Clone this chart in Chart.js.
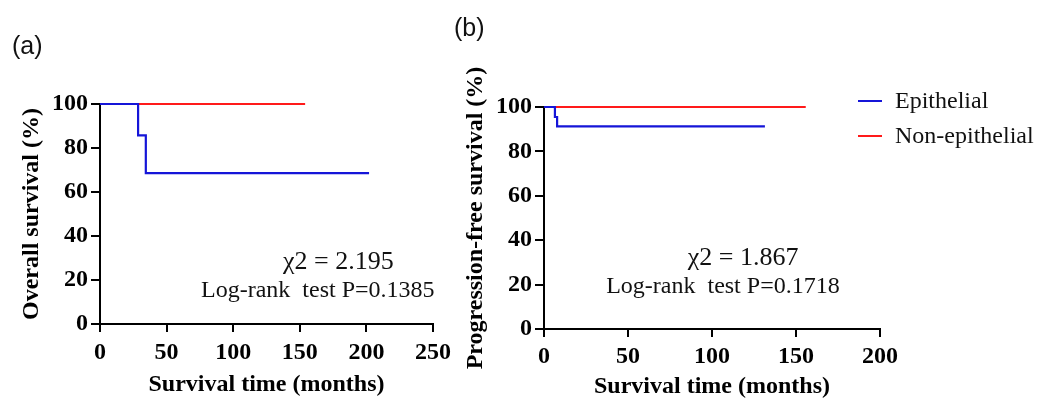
<!DOCTYPE html>
<html><head><meta charset="utf-8">
<script src="https://cdn.jsdelivr.net/npm/chart.js@4.4.1/dist/chart.umd.min.js"></script>
<style>
html,body{margin:0;padding:0;background:#fff;}
#wrap{position:relative;width:1037px;height:399px;overflow:hidden;background:#fff;}
canvas{position:absolute;left:0;top:0;}
.plabel{position:absolute;font-family:"Liberation Sans",Arial,sans-serif;font-size:25px;color:#111;line-height:1;}
</style></head>
<body>
<div id="wrap">
<canvas id="ca" width="1037" height="399"></canvas>
<canvas id="cb" width="1037" height="399"></canvas>
<div class="plabel" style="left:12px;top:33px">(a)</div>
<div class="plabel" style="left:454px;top:15px">(b)</div>
</div>
<script>
const seriesNames = ['Epithelial', 'Non-epithelial'];
const osEpiTime = [0, 28.6, 34.4, 202];
const osEpiSurv = [100, 85.7, 68.6, 68.6];
const osNonTime = [0, 154];
const osNonSurv = [100, 100];
const pfsEpiTime = [0, 6.5, 7.8, 131.5];
const pfsEpiSurv = [100, 95.5, 91.3, 91.3];
const pfsNonTime = [0, 155.8];
const pfsNonSurv = [100, 100];
const yTicks = [0, 20, 40, 60, 80, 100];
const osXTicks = [0, 50, 100, 150, 200, 250];
const pfsXTicks = [0, 50, 100, 150, 200];
const osStats = ['\u03C72 = 2.195', 'Log-rank  test P=0.1385'];
const pfsStats = ['\u03C72 = 1.867', 'Log-rank  test P=0.1718'];
const yTitles = ['Overall survival (%)', 'Progression-free survival (%)'];
const xTitle = 'Survival time (months)';

const BLUE = '#1515d8';
const RED = '#ff1a1a';
const SERIF = '"Liberation Serif","Times New Roman",serif';

const statsPlugin = {
  id: 'stats',
  afterDatasetsDraw(chart, args, opts) {
    const {ctx, scales: {x, y}} = chart;
    ctx.save();
    ctx.fillStyle = '#111';
    ctx.textAlign = 'center';
    ctx.textBaseline = 'middle';
    opts.lines.forEach((txt, i) => {
      ctx.font = (i === 0 ? '26px ' : '24px ') + SERIF;
      ctx.fillText(txt, x.getPixelForValue(opts.pos[i][0]), y.getPixelForValue(opts.pos[i][1]));
    });
    ctx.restore();
  }
};

const kmLegendPlugin = {
  id: 'kmLegend',
  afterDraw(chart, args, opts) {
    if (!opts.show) return;
    const ctx = chart.ctx;
    ctx.save();
    ctx.font = '24px ' + SERIF;
    ctx.textBaseline = 'middle';
    ctx.textAlign = 'left';
    chart.data.datasets.forEach((ds, i) => {
      const yy = opts.top + i * opts.gap;
      ctx.strokeStyle = ds.borderColor;
      ctx.lineWidth = 2;
      ctx.beginPath();
      ctx.moveTo(opts.left, yy);
      ctx.lineTo(opts.left + 24, yy);
      ctx.stroke();
      ctx.fillStyle = '#111';
      ctx.fillText(ds.label, opts.left + 37, yy + 1);
    });
    ctx.restore();
  }
};

function pts(t, s) { return t.map((v, i) => ({x: v, y: s[i]})); }

function makeChart(id, c) {
  return new Chart(document.getElementById(id), {
    type: 'line',
    data: {
      datasets: [
        {label: seriesNames[0], data: pts(c.epiT, c.epiS), borderColor: BLUE, borderWidth: 2.2, stepped: 'before', pointRadius: 0, fill: false, clip: 6},
        {label: seriesNames[1], data: pts(c.nonT, c.nonS), borderColor: RED, borderWidth: 2.2, stepped: 'before', pointRadius: 0, fill: false, clip: 6}
      ]
    },
    options: {
      responsive: false,
      animation: false,
      devicePixelRatio: 1,
      layout: {padding: c.pad},
      plugins: {
        legend: {display: false},
        tooltip: {enabled: false},
        stats: {lines: c.stats, pos: c.statsPos},
        kmLegend: c.legend
      },
      scales: {
        x: {
          type: 'linear',
          min: c.xt[0], max: c.xt[c.xt.length - 1],
          afterBuildTicks: s => { s.ticks = c.xt.map(v => ({value: v})); },
          afterFit: s => { s.height = c.xh; },
          grid: {display: true, drawOnChartArea: false, color: '#000', lineWidth: 2, tickLength: 8},
          border: {color: '#000', width: 2},
          ticks: {color: '#000', padding: c.xpad, maxRotation: 0, font: {family: SERIF, size: 24, weight: 'bold', lineHeight: 1}},
          title: {display: true, text: xTitle, color: '#000', padding: {top: 0, bottom: 0}, font: {family: SERIF, size: 24, weight: 'bold', lineHeight: c.xtl}}
        },
        y: {
          type: 'linear',
          min: yTicks[0], max: yTicks[yTicks.length - 1],
          afterBuildTicks: s => { s.ticks = yTicks.map(v => ({value: v})); },
          afterFit: s => { s.width = c.yw; },
          grid: {display: true, drawOnChartArea: false, color: '#000', lineWidth: 2, tickLength: 9},
          border: {color: '#000', width: 2},
          ticks: {color: '#000', padding: 3, font: {family: SERIF, size: 24, weight: 'bold', lineHeight: 1}},
          title: {display: true, text: c.ytitle, color: '#000', padding: {top: c.ytpad, bottom: 0}, font: {family: SERIF, size: 24, weight: 'bold', lineHeight: 1.2}}
        }
      }
    },
    plugins: [statsPlugin, kmLegendPlugin]
  });
}

makeChart('ca', {
  epiT: osEpiTime, epiS: osEpiSurv, nonT: osNonTime, nonS: osNonSurv,
  xt: osXTicks, ytitle: yTitles[0],
  pad: {left: 0, right: 604, top: 104, bottom: 0},
  yw: 100, xh: 75, xpad: 8.5, xtl: 1.2, ytpad: 17.6,
  stats: osStats, statsPos: [[179, 28], [163.5, 15.3]],
  legend: {show: false}
});

makeChart('cb', {
  epiT: pfsEpiTime, epiS: pfsEpiSurv, nonT: pfsNonTime, nonS: pfsNonSurv,
  xt: pfsXTicks, ytitle: yTitles[1],
  pad: {left: 440, right: 157, top: 107, bottom: 0},
  yw: 104, xh: 70, xpad: 7.5, xtl: 1, ytpad: 21.6,
  stats: pfsStats, statsPos: [[118.5, 32], [106.5, 19]],
  legend: {show: true, left: 858, top: 101, gap: 35}
});
</script>
</body></html>
